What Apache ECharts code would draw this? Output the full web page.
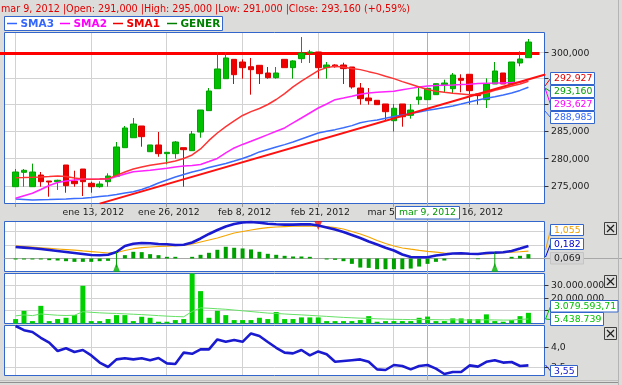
<!DOCTYPE html>
<html><head><meta charset="utf-8">
<script src="https://cdn.jsdelivr.net/npm/echarts@6/dist/echarts.min.js"></script>
<style>html,body{margin:0;padding:0;background:#dcdddb;}#c{width:622px;height:385px;}</style>
</head><body><div id="c"></div>
<script>
// ---------------- DATA ----------------
const dates = ["ene 2, 2012","ene 3, 2012","ene 4, 2012","ene 5, 2012","ene 6, 2012","ene 9, 2012","ene 10, 2012","ene 11, 2012","ene 12, 2012","ene 13, 2012",
"ene 16, 2012","ene 17, 2012","ene 18, 2012","ene 19, 2012","ene 20, 2012","ene 23, 2012","ene 24, 2012","ene 25, 2012","ene 26, 2012","ene 27, 2012",
"ene 30, 2012","ene 31, 2012","feb 1, 2012","feb 2, 2012","feb 3, 2012","feb 6, 2012","feb 7, 2012","feb 8, 2012","feb 9, 2012","feb 10, 2012",
"feb 13, 2012","feb 14, 2012","feb 15, 2012","feb 16, 2012","feb 17, 2012","feb 20, 2012","feb 21, 2012","feb 22, 2012","feb 23, 2012","feb 24, 2012",
"feb 27, 2012","feb 28, 2012","feb 29, 2012","mar 1, 2012","mar 2, 2012","mar 5, 2012","mar 6, 2012","mar 7, 2012","mar 8, 2012","mar 9, 2012",
"mar 12, 2012","mar 13, 2012","mar 14, 2012","mar 15, 2012","mar 16, 2012","mar 19, 2012","mar 20, 2012","mar 21, 2012","mar 22, 2012","mar 23, 2012",
"mar 26, 2012","mar 27, 2012"];

const openP  = [274930,277520,274930,277030,275950,275830,278850,275950,278120,275540,274930,275830,276800,282020,283860,286040,281280,282520,280920,280920,282020,281470,284920,288920,293090,295010,298760,298240,297330,297600,296110,295200,298760,297140,298890,300000,300200,297140,297660,297660,297270,293220,291320,290880,290180,287030,290180,288040,291000,291000,291950,293850,293090,295080,295860,292090,291000,293990,296110,293990,298050,299080];
const highP  = [278120,278120,279100,277580,275950,276190,278850,277810,278120,275830,275900,277340,283070,286040,287540,286040,282520,284920,281170,283250,282020,285110,289040,293220,300200,300200,298760,298760,299030,297600,297270,297270,298760,298580,303150,300600,300200,298240,297800,298100,297270,294180,293220,290880,290180,290180,290180,290180,293550,293160,294050,294820,296110,295860,295860,292090,295080,298240,296110,298240,300330,302750];
const lowP   = [274930,274930,274930,274930,273140,274340,273850,274930,273260,273850,274750,274930,276800,282020,283860,282200,281280,280360,278980,280000,274930,281470,283860,288920,293090,295010,293990,295010,291950,293990,295010,295010,297140,295010,298050,298050,295010,295010,297140,293990,293090,290050,290050,290050,287030,285000,285910,287410,290050,291000,291950,292270,292270,292400,290050,290050,289420,293990,293990,293990,297410,299080];
const closeP = [277580,277890,277580,275830,275770,276080,275110,275470,275830,274930,275410,276850,282150,285670,286410,284050,282520,280920,281170,283070,281650,284550,289040,292650,296890,299030,295780,297140,296750,295980,295200,296110,297140,298450,300000,300200,297140,297660,297330,296950,293420,291190,290800,290050,288720,289370,287780,289040,291510,293160,294050,294180,295720,294700,292710,291760,293990,296500,293990,298240,298830,302160];

const sma1 = [276560,276590,276630,276680,276770,276870,276770,276500,276320,276270,276320,276380,276960,277590,278130,278500,278800,279040,279280,279580,280040,280680,281790,283360,284740,285920,286980,288010,288730,289330,290080,291030,292150,293430,294520,295540,296570,297150,297420,297230,296960,296760,296370,295990,295480,295020,294450,293950,293430,292927,292610,292410,292220,292090,291950,292030,292280,292800,293180,293620,294000,294520];
const sma2 = [272860,273310,273750,274430,275140,275690,275960,276140,276270,276290,276300,276320,276740,277230,277640,277770,277900,278080,278260,278500,278680,278770,278950,279490,280040,281050,281970,282620,283210,283820,284430,285060,285670,286610,287540,288480,289420,290170,291000,291320,291650,292030,292280,292410,292510,292610,292890,293150,293400,293627,293680,293740,293800,293870,293950,294070,294130,294160,294200,294260,294330,294830];
const sma3 = [272740,272650,272560,272600,272630,272690,272740,272810,272860,273010,273170,273330,273540,273810,274040,274430,274960,275600,276140,276680,277140,277590,277950,278410,278770,279130,279580,280040,280590,281240,281700,282160,282580,283080,283630,284180,284740,285060,285360,285730,286110,286650,286950,287180,287480,287800,288080,288360,288680,288985,289250,289500,289810,290170,290560,290940,291270,291570,291900,292280,292760,293380];
const trendIdx = [10, 63];
const trendVal = [271910, 295820];
const resistance = 300000;

const macdLine   = [1.72,1.63,1.54,1.42,1.27,1.12,0.97,0.82,0.67,0.52,0.48,0.57,0.97,1.87,2.19,2.31,2.28,2.16,2.12,2.01,2.06,2.39,2.99,3.66,4.25,4.78,5.15,5.37,5.45,5.33,5.19,5.12,5.06,5.06,5.10,5.12,4.93,4.63,4.33,3.96,3.51,3.06,2.54,2.09,1.61,1.19,0.60,0.22,0.18,0.182,0.45,0.60,0.75,0.78,0.70,0.67,0.82,0.87,0.93,1.12,1.49,1.87];
const signalLine = [1.87,1.78,1.69,1.60,1.51,1.42,1.33,1.24,1.13,1.03,0.93,0.82,0.90,1.19,1.46,1.61,1.72,1.79,1.84,1.90,1.94,2.16,2.46,2.76,3.06,3.43,3.81,4.03,4.25,4.46,4.61,4.70,4.76,4.81,4.84,4.85,4.82,4.76,4.61,4.40,4.03,3.66,3.21,2.69,2.24,1.87,1.57,1.39,1.22,1.055,0.94,0.82,0.75,0.70,0.67,0.67,0.70,0.79,0.87,0.94,1.01,1.09];
const macdHist   = [-0.15,-0.15,-0.15,-0.15,-0.25,-0.3,-0.4,-0.5,-0.5,-0.5,-0.4,-0.35,0,0.5,1.0,0.95,0.65,0.5,0.25,0.25,0,0.25,0.55,0.85,1.3,1.75,1.6,1.5,1.35,1.0,0.7,0.55,0.4,0.3,0.3,0.25,0,-0.15,-0.2,-0.4,-0.8,-1.35,-1.4,-1.6,-1.6,-1.6,-1.6,-1.5,-1.2,-0.8,-0.5,-0.3,0,0,0,-0.1,0,0,0,0.25,0.4,0.65];
const buySignals = [12, 57];
const sellSignals = [36];

const volume   = [3500000,10000000,1900000,13900000,1900000,3500000,4500000,6600000,29700000,1900000,1900000,3500000,6600000,6600000,1900000,5300000,4500000,1400000,1400000,2700000,3500000,41000000,25500000,4500000,10000000,6600000,2700000,2700000,2700000,4500000,3500000,9000000,3500000,3500000,4800000,4800000,4800000,1900000,1900000,1900000,1900000,2700000,5800000,1400000,1900000,1900000,1900000,1900000,4500000,5438739,1900000,1900000,4000000,4000000,3500000,3500000,7200000,1900000,1400000,2700000,5800000,8400000];
const volumeMA = [6000000,6800000,6200000,7500000,7000000,6500000,6300000,6500000,9300000,8800000,8400000,8100000,7900000,7600000,7300000,7000000,6600000,6200000,5800000,5500000,5300000,9500000,12300000,12000000,11600000,11200000,10600000,10000000,9400000,8800000,8200000,7900000,7500000,7100000,6800000,6400000,6000000,5600000,5200000,4800000,4500000,4200000,4000000,3700000,3500000,3300000,3200000,3100000,3100000,3079594,3000000,2900000,2900000,2800000,2800000,2800000,2900000,2800000,2700000,2700000,3200000,3600000];

const osc = [4.525,4.42,4.375,4.23,4.11,3.9,3.97,3.875,3.925,3.79,3.61,3.5,3.69,3.72,3.69,3.72,3.67,3.725,3.59,3.575,3.86,3.83,3.94,3.94,4.19,4.13,4.175,4.13,4.34,4.275,4.125,3.98,3.86,3.84,3.925,3.79,3.89,3.82,3.63,3.65,3.67,3.69,3.63,3.44,3.425,3.55,3.525,3.44,3.525,3.55,3.46,3.325,3.375,3.375,3.54,3.51,3.63,3.67,3.61,3.625,3.525,3.54];

const crossIdx = 49;
const titleText = "mar 9, 2012 |Open: 291,000 |High: 295,000 |Low: 291,000 |Close: 293,160 (+0,59%)";
const legendNames = ["SMA3","SMA2","SMA1","GENER"];
const dateTickIdx = [0,9,18,27,36,45,54];
const dateLabelIdx = [9,18,27,36,45,54];
const priceGridVals = [275000,280000,285000,290000,295000,300000];
const priceTickLabels = ["300,000","295,000","290,000","285,000","280,000","275,000"];
const priceTickVals = [300000,295000,290000,285000,280000,275000];
const macdGridVals = [2,4];
const volGridVals = [10000000,20000000,30000000];
const volTickLabels = ["30.000.000","20.000.000","10.000.000"];
const volTickVals = [30000000,20000000,10000000];
const oscGridVals = [3.5,4.0];
const oscTickLabels = ["4,0","3,5"];
const oscTickVals = [4.0,3.5];
const priceBoxLabels = ["292,927","293,160","293,627","288,985"];
const macdBoxLabels = ["1,055","0,182","0,069"];
const volBoxLabels = ["3.079.593,71","5.438.739"];
const oscBoxLabels = ["3,55"];

// ---------------- CHART ----------------
const chart = echarts.init(document.getElementById('c'));
const grids = [
  {left:4.5, top:32.5, width:540, height:171},
  {left:4.5, top:221.5, width:540, height:50},
  {left:4.5, top:273.5, width:540, height:50},
  {left:4.5, top:325.5, width:540, height:50}
];
const X_MIN = -1.320, X_MAX = 62.912;
const pairs = arr => arr.map((v,i)=>[i,v]);
const lineS = (gi, data, color, width, extra) => Object.assign({
  type:'line', xAxisIndex:gi, yAxisIndex:gi, data, showSymbol:false, symbol:'none',
  lineStyle:{color, width}, silent:true, animation:false
}, extra||{});

const series = [
  lineS(0, pairs(sma3), '#3a6cff', 1.5),
  lineS(0, pairs(sma2), '#ff22ff', 1.5),
  lineS(0, pairs(sma1), '#ff3333', 1.5),
  lineS(0, trendIdx.map((x,k)=>[x,trendVal[k]]), '#ff1010', 2),
  {type:'candlestick', xAxisIndex:0, yAxisIndex:0, barWidth:6, silent:true, animation:false,
   data: dates.map((d,i)=>[i, openP[i], closeP[i], lowP[i], highP[i]]),
   itemStyle:{color:'#00c000', color0:'#ee0000', borderColor:'#00a400', borderColor0:'#e00000', borderWidth:1}},
  {type:'bar', xAxisIndex:1, yAxisIndex:1, data:pairs(macdHist), barWidth:4, silent:true, animation:false, itemStyle:{color:'#00a000'}},
  lineS(1, pairs(signalLine), '#f5a500', 1.2),
  lineS(1, pairs(macdLine), '#1a1ad0', 2.6),
  ...buySignals.map(i => lineS(1, [[i,-1.3],[i,macdLine[i]]], '#00a000', 1)),
  {type:'scatter', xAxisIndex:1, yAxisIndex:1, data: buySignals.map(i=>[i,-1.3]), symbol:'triangle', symbolSize:[7,9], silent:true, animation:false, itemStyle:{color:'#00b000'}},
  {type:'scatter', xAxisIndex:1, yAxisIndex:1, data: sellSignals.map(i=>[i,4.93]), symbol:'triangle', symbolRotate:180, symbolSize:[8,9], silent:true, animation:false, itemStyle:{color:'#ee1111'}},
  {type:'bar', xAxisIndex:2, yAxisIndex:2, data:pairs(volume), barWidth:5, silent:true, animation:false, itemStyle:{color:'#00d000'}},
  lineS(2, pairs(volumeMA), '#66e066', 1),
  lineS(3, pairs(osc), '#1a1ad0', 2.6)
];

chart.setOption({
  backgroundColor:'#dcdddb',
  animation:false,
  grid: grids.map(g => Object.assign({show:true, backgroundColor:'#ffffff', borderColor:'#3366cc', borderWidth:1}, g)),
  xAxis: [0,1,2,3].map(i => ({type:'value', gridIndex:i, min:X_MIN, max:X_MAX, show:false})),
  yAxis: [
    {type:'log', gridIndex:0, min:271930, max:304040, show:false},
    {type:'value', gridIndex:1, min:-1.940, max:5.522, show:false},
    {type:'value', gridIndex:2, min:0, max:39370000, show:false},
    {type:'value', gridIndex:3, min:3.2875, max:4.5375, show:false}
  ],
  series
});

// ---------------- OVERLAYS ----------------
const px = (g, x, y) => chart.convertToPixel({gridIndex:g}, [x, y]);
const crisp = v => Math.round(v - 0.5) + 0.5;
const FONT = '9.3px "DejaVu Sans"';
const els = [];
function L(x1,y1,x2,y2,stroke,w,z){ els.push({type:'line', silent:true, z:(z==null?1:z), shape:{x1,y1,x2,y2}, style:{stroke, lineWidth:w||1}}); }
function T(text,x,y,fill,font,align,z){ els.push({type:'text', silent:true, z:(z==null?20:z), style:{text, x, y, fill, font:font||FONT, align:align||'left', verticalAlign:'middle', textAlign:align||'left', textVerticalAlign:'middle'}}); }
function R(x,y,w,h,fill,stroke,z){ els.push({type:'rect', silent:true, z:(z==null?15:z), shape:{x,y,width:w,height:h}, style:{fill, stroke, lineWidth:1}}); }
function box(x,y,w,h,text,color,fill,stroke){ R(x,y,w,h,fill||'#ffffff',stroke||'#3366cc',15); T(text,x+3.5,y+h/2+0.5,color,FONT,'left',20); }

const yRef = [290000, 0, 10000000, 4];
const hGrid = [priceGridVals, macdGridVals, volGridVals, oscGridVals];
grids.forEach((g, gi) => {
  const top = g.top, bot = g.top + g.height, left = g.left, right = g.left + g.width;
  dateTickIdx.forEach(i => { const x = crisp(px(gi, i, yRef[gi])[0]); L(x, top+0.5, x, bot-0.5, '#d2d2d2', 1, 1); });
  hGrid[gi].forEach(v => { const y = crisp(px(gi, 0, v)[1]); L(left+0.5, y, right-0.5, y, '#d2d2d2', 1, 1); });
});
// MACD zero line (extends to the right edge)
const y0 = crisp(px(1, 0, 0)[1]);
L(4.5, y0, 622, y0, '#a8a8a8', 1, 1);
// crosshair
const cx = crisp(px(0, crossIdx, 290000)[0]);
L(cx, 33, cx, 380, '#b0b0b0', 1, 1);
// resistance line
const yr = px(0, 0, resistance)[1];
L(0, yr + 0.5, 539.5, yr + 0.5, '#ff0000', 3, 1);

// main right axis
priceTickVals.forEach((v,k) => { const y = px(0,0,v)[1]; L(544.5, crisp(y), 548.5, crisp(y), '#333', 1, 12); T(priceTickLabels[k], 551, y+0.5, '#222', FONT, 'left', 12); });
// bottom date axis
dateTickIdx.forEach(i => { const x = crisp(px(0,i,290000)[0]); L(x, 203.5, x, 207, '#999', 1, 12); });
dateLabelIdx.forEach(i => { const x = px(0,i,290000)[0]; T(dates[i], x + 2, 213, '#222', FONT, 'center', 12); });
// crosshair date box
R(crisp(cx - 32), 206.5, 64, 12.5, '#ffffff', '#3366cc', 15);
T(dates[crossIdx], cx, 213, '#009900', FONT, 'center', 20);

// volume & osc axis labels
volTickVals.forEach((v,k) => { const y = px(2,0,v)[1]; L(544.5, crisp(y), 548.5, crisp(y), '#333', 1, 12); T(volTickLabels[k], 551, y+0.5, '#222', FONT, 'left', 12); });
oscTickVals.forEach((v,k) => { const y = px(3,0,v)[1]; L(544.5, crisp(y), 548.5, crisp(y), '#333', 1, 12); T(oscTickLabels[k], 551, y+0.5, '#222', FONT, 'left', 12); });

// value boxes main
const pbColors = ['#e00000','#00a000','#ff00ff','#3366ff'];
const pbConn = [[545,86,550.5,78.5],[545,88,550.5,91.5],[545,88,550.5,104.5],[545,111,550.5,117.5]];
priceBoxLabels.forEach((t,k) => { const c = pbConn[k]; L(c[0],c[1],c[2],c[3],pbColors[k],1,14); box(550.5, 72.5 + k*13, 44, 12, t, pbColors[k]); });
// MACD boxes
L(545.5,250,550.5,230,'#f0a000',1,14); L(545.5,257,550.5,244,'#0000cc',1,14);
box(550.5, 224.5, 33, 11, macdBoxLabels[0], '#f0a000');
box(550.5, 238.5, 33, 11, macdBoxLabels[1], '#0000cc');
box(550.5, 252.5, 33, 11.5, macdBoxLabels[2], '#222222', '#d6d6d6', '#c4c4c4');
// Volume boxes
L(545.5,319,550.5,306.5,'#00c000',1,14); L(545.5,319,550.5,319.5,'#00c000',1,14);
box(550.5, 300.5, 67.5, 11.5, volBoxLabels[0], '#00c000');
box(550.5, 312.5, 53, 13, volBoxLabels[1], '#00c000');
// Osc box
L(545.5,365,550.5,371,'#1a1ad0',1,14);
box(550.5, 365.5, 27, 11, oscBoxLabels[0], '#1a1ad0');

// Title
T(titleText, 1, 9, '#e00000', '9.6px "DejaVu Sans"', 'left', 20);
// Legend
R(4.5, 16.5, 218, 14, '#ffffff', '#3366cc', 15);
const legColors = ['#3366ff','#ff00ff','#ee0000','#008000'];
const legLineX = [7, 60, 113, 167];
legendNames.forEach((n,k) => {
  L(legLineX[k], 23.5, legLineX[k]+10, 23.5, legColors[k], 1.5, 18);
  T(n, legLineX[k]+13.5, 24, legColors[k], 'bold 10.5px "DejaVu Sans"', 'left', 20);
});
// close buttons
[222.5, 275.5, 327.5].forEach(y => {
  R(604.5, y, 12, 12, 'rgba(0,0,0,0)', '#404040', 15);
  L(607, y+2.5, 614, y+9.5, '#202020', 1.3, 16);
  L(614, y+2.5, 607, y+9.5, '#202020', 1.3, 16);
});
// window edges
L(618.5, 0, 618.5, 385, '#b4b4b4', 1, 1);
L(0, 380.5, 618, 380.5, '#c0c0c0', 1, 1);
L(0, 382.5, 618, 382.5, '#909090', 1, 1);

chart.setOption({graphic:{elements:els}});
</script>
</body></html>
